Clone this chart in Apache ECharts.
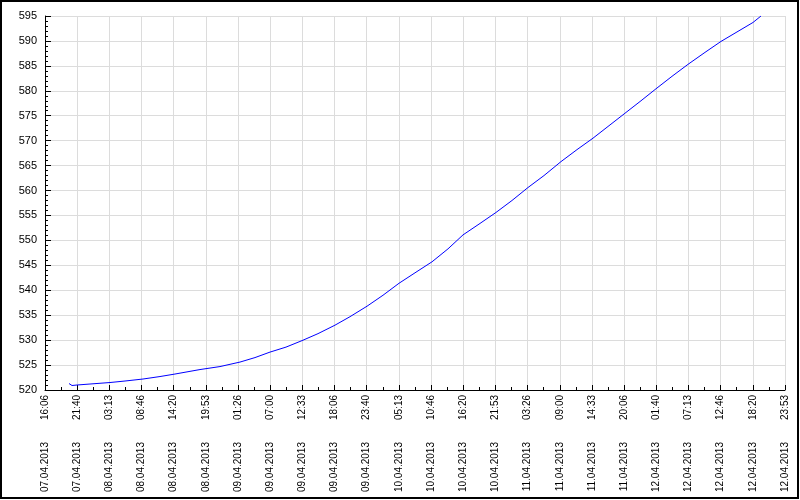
<!DOCTYPE html>
<html>
<head>
<meta charset="utf-8">
<script src="https://cdn.jsdelivr.net/npm/echarts@6/dist/echarts.min.js"></script>
<style>
  html, body { margin: 0; padding: 0; background: #fff; }
  #chart { width: 800px; height: 500px; }
</style>
</head>
<body>
<div id="chart"></div>
<script>
// axis starts at 07.04.2013 16:06:40, ticks every 20000 s
const startTime = Date.UTC(2013, 3, 7, 16, 6, 40)
const tickStep = 20000
const axisEnd = 460000

// seconds since startTime
const times = [
  14920, 16780, 19890, 27970, 40400, 49730, 60920, 71480, 80810, 96350,
  108780, 121210, 130540, 139860, 149810, 159750, 169700, 180260, 189590, 200160,
  210100, 220050, 230000, 240550, 250500, 259830, 270400, 280340, 290290, 300230,
  310180, 320750, 330690, 340640, 350590, 360530, 370480, 379800, 389750, 399690,
  410260, 420200, 430150, 440100, 445070
]
const values = [
  521.3, 520.9, 521.0, 521.2, 521.5, 521.8, 522.2, 522.7, 523.2, 524.1,
  524.7, 525.6, 526.5, 527.6, 528.6, 529.9, 531.3, 533.0, 534.7, 536.8,
  539.0, 541.4, 543.5, 545.7, 548.3, 551.1, 553.4, 555.6, 558.0, 560.6,
  563.0, 565.8, 568.2, 570.5, 573.0, 575.5, 578.0, 580.4, 582.9, 585.3,
  587.7, 589.9, 591.8, 593.7, 595.0
]

const pad = n => (n < 10 ? '0' : '') + n
function fmtTime (sec) {
  const d = new Date(startTime + sec * 1000)
  return pad(d.getUTCDate()) + '.' + pad(d.getUTCMonth() + 1) + '.' + d.getUTCFullYear() +
    '{t|' + pad(d.getUTCHours()) + ':' + pad(d.getUTCMinutes()) + '}'
}

const chart = echarts.init(document.getElementById('chart'))
const gridColor = '#dcdcdc'
const option = {
  animation: false,
  backgroundColor: '#fff',
  textStyle: { fontFamily: 'Liberation Sans', color: '#000' },
  graphic: [{
    type: 'rect',
    shape: { x: 1, y: 1, width: 797, height: 497 },
    style: { fill: null, stroke: '#000', lineWidth: 2 },
    silent: true
  }],
  grid: { left: 45, right: 15, top: 16, bottom: 110 },
  xAxis: {
    type: 'value',
    min: 0,
    max: axisEnd,
    interval: tickStep,
    axisLine: { lineStyle: { color: '#000', width: 1 } },
    axisTick: { inside: true, length: 5, lineStyle: { color: '#000' } },
    minorTick: { show: true, splitNumber: 2, length: 3, lineStyle: { color: '#000' } },
    splitLine: { show: true, lineStyle: { color: gridColor, width: 1 } },
    axisLabel: {
      rotate: 90,
      margin: 5,
      fontSize: 10,
      color: '#000',
      formatter: fmtTime,
      rich: { t: { fontSize: 10, color: '#000', padding: [0, 0, 0, 22] } }
    }
  },
  yAxis: {
    type: 'value',
    min: 520,
    max: 595,
    interval: 5,
    axisLine: { show: true, lineStyle: { color: '#000', width: 1 } },
    axisTick: { show: true, inside: true, length: 6, lineStyle: { color: '#000' } },
    minorTick: { show: true, splitNumber: 5, length: 3, lineStyle: { color: '#000' } },
    splitLine: { show: true, lineStyle: { color: gridColor, width: 1 } },
    axisLabel: { margin: 8, fontSize: 11, color: '#000' }
  },
  series: [{
    type: 'line',
    showSymbol: false,
    lineStyle: { color: '#0000ff', width: 1 },
    itemStyle: { color: '#0000ff' },
    data: times.map((t, i) => [t, values[i]])
  }]
}
chart.setOption(option)
</script>
</body>
</html>
